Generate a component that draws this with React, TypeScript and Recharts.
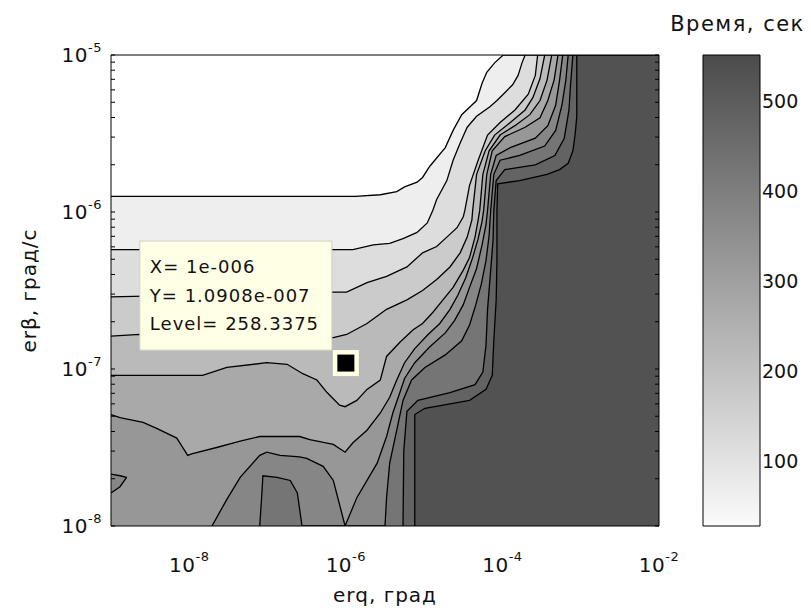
import { Area, ComposedChart, Label, ReferenceDot, XAxis, YAxis } from "recharts";

type Pt = [number, number];

// contour lines in log10 units: [lg erq, lg erβ], light -> dark
const contour1: Pt[] = [
  [-9, -5.9], [-5.88, -5.9], [-5.56, -5.89], [-5.35, -5.87], [-5.25, -5.84], [-5.09, -5.81],
  [-5.02, -5.78], [-4.93, -5.71], [-4.73, -5.59], [-4.63, -5.48], [-4.52, -5.38], [-4.33, -5.29],
  [-4.26, -5.18], [-4.2, -5.11], [-4.1, -5.05], [-3.99, -5], [-2, -5],
];
const contour2: Pt[] = [
  [-9, -6.24], [-6.16, -6.24], [-5.91, -6.24], [-5.65, -6.21], [-5.44, -6.2], [-5.27, -6.17],
  [-5.09, -6.13], [-4.96, -6.07], [-4.89, -5.99], [-4.84, -5.92], [-4.71, -5.8], [-4.63, -5.67],
  [-4.54, -5.56], [-4.45, -5.46], [-4.33, -5.39], [-4.16, -5.33], [-4.07, -5.29], [-3.97, -5.24],
  [-3.87, -5.19], [-3.8, -5.13], [-3.75, -5.05], [-3.71, -5], [-2, -5],
];
const contour3: Pt[] = [
  [-9, -6.54], [-6.16, -6.51], [-5.99, -6.51], [-5.73, -6.45], [-5.48, -6.41], [-5.22, -6.35],
  [-5.02, -6.26], [-4.84, -6.22], [-4.71, -6.16], [-4.58, -6.1], [-4.5, -6.03], [-4.48, -5.99],
  [-4.42, -5.83], [-4.31, -5.67], [-4.19, -5.51], [-4.03, -5.43], [-3.84, -5.35], [-3.67, -5.25],
  [-3.58, -5.13], [-3.55, -5], [-2, -5],
];
const contour4: Pt[] = [
  [-9, -6.79], [-8.63, -6.78], [-6.16, -6.8], [-5.99, -6.78], [-5.73, -6.71], [-5.48, -6.62],
  [-5.22, -6.56], [-5.02, -6.5], [-4.84, -6.43], [-4.67, -6.35], [-4.54, -6.26], [-4.45, -6.16],
  [-4.39, -6.05], [-4.38, -5.99], [-4.33, -5.76], [-4.22, -5.61], [-4.1, -5.51], [-3.9, -5.43],
  [-3.71, -5.35], [-3.61, -5.27], [-3.52, -5.15], [-3.46, -5], [-2, -5],
];
const contour5: Pt[] = [
  [-9, -7.04], [-7.83, -7.04], [-7.52, -6.99], [-7.01, -6.96], [-6.75, -6.97], [-6.55, -7.03],
  [-6.37, -7.07], [-6.24, -7.15], [-6.08, -7.23], [-6.01, -7.24], [-5.86, -7.2], [-5.73, -7.13],
  [-5.56, -7.07], [-5.48, -6.92], [-5.31, -6.83], [-5.14, -6.75], [-5.02, -6.71], [-4.89, -6.64],
  [-4.76, -6.56], [-4.63, -6.48], [-4.5, -6.37], [-4.42, -6.29], [-4.35, -6.16], [-4.31, -6.05],
  [-4.29, -5.99], [-4.25, -5.76], [-4.17, -5.61], [-4.03, -5.51], [-3.84, -5.45], [-3.65, -5.38],
  [-3.52, -5.29], [-3.43, -5.16], [-3.37, -5], [-2, -5],
];
const contour6: Pt[] = [
  [-9, -7.29], [-8.885, -7.31], [-8.59, -7.34], [-8.41, -7.38], [-8.16, -7.44], [-8.02, -7.55],
  [-7.97, -7.54], [-7.65, -7.5], [-7.35, -7.46], [-7.1, -7.43], [-6.59, -7.43], [-6.46, -7.45],
  [-6.16, -7.48], [-6.01, -7.53], [-5.91, -7.47], [-5.73, -7.39], [-5.56, -7.28], [-5.44, -7.18],
  [-5.35, -7.07], [-5.25, -6.96], [-5.12, -6.87], [-4.95, -6.78], [-4.8, -6.71], [-4.67, -6.62],
  [-4.57, -6.53], [-4.47, -6.42], [-4.38, -6.29], [-4.31, -6.17], [-4.26, -6.06], [-4.24, -5.99],
  [-4.2, -5.76], [-4.13, -5.61], [-3.97, -5.52], [-3.71, -5.46], [-3.52, -5.4], [-3.42, -5.29],
  [-3.34, -5.16], [-3.29, -5], [-2, -5],
];
const contour7: Pt[] = [
  [-7.71, -8], [-7.52, -7.83], [-7.35, -7.69], [-7.1, -7.55], [-7.01, -7.53], [-6.84, -7.55],
  [-6.59, -7.56], [-6.5, -7.57], [-6.29, -7.62], [-6.16, -7.71], [-6.01, -8], [-5.86, -7.82],
  [-5.6, -7.6], [-5.48, -7.43], [-5.4, -7.28], [-5.31, -7.15], [-5.25, -7.06], [-5.12, -6.96],
  [-4.93, -6.86], [-4.73, -6.77], [-4.61, -6.69], [-4.5, -6.59], [-4.42, -6.48], [-4.33, -6.36],
  [-4.26, -6.21], [-4.21, -6.08], [-4.19, -5.99], [-4.15, -5.76], [-4.08, -5.64], [-3.9, -5.59],
  [-3.58, -5.53], [-3.42, -5.45], [-3.32, -5.32], [-3.27, -5.16], [-3.23, -5], [-2, -5],
];
const contour8: Pt[] = [
  [-7.1, -8], [-7.07, -7.77], [-7.06, -7.68], [-6.88, -7.69], [-6.71, -7.71], [-6.62, -7.79],
  [-6.56, -8], [-5.5, -8], [-5.48, -7.82], [-5.44, -7.6], [-5.35, -7.39], [-5.27, -7.2],
  [-5.16, -7.07], [-4.99, -6.99], [-4.73, -6.91], [-4.52, -6.82], [-4.42, -6.72], [-4.34, -6.59],
  [-4.27, -6.46], [-4.21, -6.31], [-4.17, -6.15], [-4.15, -5.99], [-4.11, -5.76], [-4.03, -5.67],
  [-3.78, -5.64], [-3.46, -5.58], [-3.32, -5.48], [-3.24, -5.32], [-3.19, -5.16], [-3.16, -5],
  [-2, -5],
];
const contour9: Pt[] = [
  [-5.27, -8], [-5.26, -7.52], [-5.22, -7.27], [-5.08, -7.2], [-4.67, -7.15], [-4.35, -7.1],
  [-4.25, -7.02], [-4.21, -6.85], [-4.19, -6.62], [-4.15, -6.37], [-4.12, -6.18], [-4.11, -5.99],
  [-4.08, -5.8], [-3.97, -5.73], [-3.58, -5.7], [-3.33, -5.64], [-3.21, -5.53], [-3.15, -5.35],
  [-3.13, -5.19], [-3.1, -5], [-2, -5],
];
const contour10: Pt[] = [
  [-5.12, -8], [-5.12, -7.29], [-4.99, -7.25], [-4.42, -7.2], [-4.21, -7.13], [-4.13, -7.04],
  [-4.11, -6.82], [-4.08, -6.56], [-4.07, -6.31], [-4.07, -5.99], [-4.06, -5.82], [-3.78, -5.8],
  [-3.43, -5.76], [-3.27, -5.73], [-3.16, -5.69], [-3.1, -5.61], [-3.07, -5.5], [-3.05, -5.39],
  [-3.05, -5], [-2, -5],
];
// small closed contour at the left edge (level of contour 7): [lg erq, low, high]
const leftLoop: [number, number, number][] = [
  [-9, -7.79, -7.67], [-8.885, -7.75, -7.68], [-8.8, -7.69, -7.69],
];

const contours = [contour1, contour2, contour3, contour4, contour5, contour6, contour7, contour8, contour9, contour10];
const bandColors = ["#eeeeee", "#dddddd", "#cbcbcb", "#bababa", "#a9a9a9", "#979797", "#868686", "#757575", "#636363", "#525252"];

const xTicks = [-8, -6, -4, -2];
const yTicks = [-8, -7, -6, -5];
const yMinorTicks: number[] = [];
for (const d of [-8, -7, -6]) for (let k = 1; k <= 9; k++) yMinorTicks.push(d + Math.log10(k));
yMinorTicks.push(-5);

// data cursor
const tipX = "1e-006";
const tipY = "1.0908e-007";
const tipLevel = "258.3375";
const tipPoint = { x: -6, y: Math.log10(1.0908e-7) };

// colorbar
const cbarMin = 28;
const cbarMax = 552;
const cbarTicks = [100, 200, 300, 400, 500];
const cbarData = [{ x: 0, v: cbarMax }, { x: 1, v: cbarMax }];

const font = '"DejaVu Sans", Verdana, sans-serif';
const ink = "#111";

const rows = (pts: Pt[]) => pts.map(([x, y]) => ({ x, y }));
const empty = () => <g />;

function XTick({ x, y, payload }: any) {
  return (
    <text x={x} y={y + 46} textAnchor="middle" fontSize={20} fill={ink} letterSpacing={0.5}>
      <tspan>10</tspan>
      <tspan dy={-11} fontSize={13}>{payload.value}</tspan>
    </text>
  );
}

function YTick({ x, y, payload }: any) {
  return (
    <text x={x - 9} y={y + 7} textAnchor="end" fontSize={20} fill={ink} letterSpacing={0.5}>
      <tspan>10</tspan>
      <tspan dy={-10} fontSize={13}>{payload.value}</tspan>
    </text>
  );
}

function CursorTip({ cx, cy }: any) {
  const bx = cx - 206;
  const by = cy - 122;
  return (
    <g fontSize={18} fill={ink}>
      <rect x={bx} y={by} width={192} height={109} fill="#ffffe6" stroke="#d4d4c0" />
      <text x={bx + 10} y={cy - 90} letterSpacing={1}>X= {tipX}</text>
      <text x={bx + 10} y={cy - 61} letterSpacing={1}>Y= {tipY}</text>
      <text x={bx + 10} y={cy - 33} letterSpacing={1}>Level= {tipLevel}</text>
      <rect x={cx - 13} y={cy - 13} width={26} height={26} fill="#ffffe6" />
      <rect x={cx - 8.5} y={cy - 8.5} width={17} height={17} fill="#000" />
    </g>
  );
}

function ContourPlot() {
  return (
    <ComposedChart width={811} height={610} margin={{ top: 55, right: 152, bottom: 0, left: 0 }}>
      <XAxis xAxisId="x" type="number" dataKey="x" domain={[-9, -2]} ticks={xTicks} interval={0}
        allowDataOverflow height={84} tickLine={false} axisLine={false} tickSize={0} tickMargin={0} tick={XTick}>
        <Label content={({ viewBox }: any) => (
          <text x={viewBox.x + viewBox.width / 2} y={viewBox.y + 76} textAnchor="middle" fontSize={20} fill={ink} letterSpacing={1}>
            erq, град
          </text>
        )} />
      </XAxis>
      <YAxis yAxisId="y" type="number" domain={[-8, -5]} ticks={yTicks} interval={0} allowDataOverflow
        width={111} tickLine={false} axisLine={false} tickSize={0} tickMargin={0} tick={YTick}>
        <Label content={({ viewBox }: any) => {
          const cx = 29;
          const cy = viewBox.y + viewBox.height / 2;
          return (
            <text x={cx} y={cy} transform={`rotate(-90 ${cx} ${cy})`} textAnchor="middle" dominantBaseline="central"
              fontSize={20} fill={ink} letterSpacing={1}>
              erβ, град/с
            </text>
          );
        }} />
      </YAxis>

      {contours.map((c, i) => (
        <Area key={i} xAxisId="x" yAxisId="y" data={rows(c)} dataKey="y" type="linear" baseValue="dataMin"
          fill={bandColors[i]} fillOpacity={1} stroke="#000" strokeWidth={1.3} dot={false} activeDot={false}
          isAnimationActive={false} />
      ))}
      <Area xAxisId="x" yAxisId="y" data={leftLoop.map(([x, lo, hi]) => ({ x, r: [lo, hi] }))} dataKey="r"
        type="linear" fill={bandColors[6]} fillOpacity={1} stroke="#000" strokeWidth={1.3} dot={false}
        activeDot={false} isAnimationActive={false} />

      <XAxis xAxisId="xb" type="number" orientation="bottom" mirror domain={[-9, -2]} ticks={xTicks} interval={0}
        allowDataOverflow height={10} tickSize={5} tick={empty} tickLine={{ stroke: "#000" }} axisLine={{ stroke: "#000" }} />
      <XAxis xAxisId="xt" type="number" orientation="top" mirror domain={[-9, -2]} ticks={xTicks} interval={0}
        allowDataOverflow height={10} tickSize={5} tick={empty} tickLine={{ stroke: "#000" }} axisLine={{ stroke: "#000" }} />
      <YAxis yAxisId="yl" type="number" orientation="left" mirror domain={[-8, -5]} ticks={yMinorTicks} interval={0}
        allowDataOverflow width={10} tickSize={4} tick={empty} tickLine={{ stroke: "#000" }} axisLine={{ stroke: "#000" }} />
      <YAxis yAxisId="yr" type="number" orientation="right" mirror domain={[-8, -5]} ticks={yMinorTicks} interval={0}
        allowDataOverflow width={10} tickSize={4} tick={empty} tickLine={{ stroke: "#000" }} axisLine={{ stroke: "#000" }} />

      <ReferenceDot xAxisId="x" yAxisId="y" x={tipPoint.x} y={tipPoint.y} r={8} shape={CursorTip} />
    </ComposedChart>
  );
}

function Colorbar() {
  return (
    <ComposedChart width={161} height={610} data={cbarData} margin={{ top: 55, right: 0, bottom: 84, left: 53 }}>
      <defs>
        <linearGradient id="cbarFill" x1="0" y1="0" x2="0" y2="1">
          <stop offset="0" stopColor="#4b4b4b" />
          <stop offset="1" stopColor="#fbfbfb" />
        </linearGradient>
      </defs>
      <XAxis xAxisId="c" type="number" dataKey="x" domain={[0, 1]} hide />
      <YAxis yAxisId="c" orientation="right" type="number" domain={[cbarMin, cbarMax]} ticks={cbarTicks} interval={0}
        allowDataOverflow width={51} tickLine={false} axisLine={false} tickSize={0} tickMargin={2}
        tick={{ fontSize: 19, fill: ink }} />
      <Area xAxisId="c" yAxisId="c" dataKey="v" type="linear" baseValue="dataMin" fill="url(#cbarFill)" fillOpacity={1}
        stroke="none" dot={false} activeDot={false} isAnimationActive={false} />
      <XAxis xAxisId="ct" type="number" orientation="top" mirror domain={[0, 1]} ticks={[]} height={10}
        tick={empty} axisLine={{ stroke: "#000" }}>
        <Label content={({ viewBox }: any) => (
          <text x={viewBox.x + viewBox.width / 2 + 6} y={viewBox.y - 24} textAnchor="middle" fontSize={21} fill={ink} letterSpacing={1.5}>
            Время, сек
          </text>
        )} />
      </XAxis>
      <XAxis xAxisId="cb" type="number" orientation="bottom" mirror domain={[0, 1]} ticks={[]} height={10}
        tick={empty} axisLine={{ stroke: "#000" }} />
      <YAxis yAxisId="cl" type="number" orientation="left" mirror domain={[cbarMin, cbarMax]} ticks={cbarTicks} interval={0}
        width={10} tickSize={4} tick={empty} tickLine={{ stroke: "#000" }} axisLine={{ stroke: "#000" }} />
      <YAxis yAxisId="cr" type="number" orientation="right" mirror domain={[cbarMin, cbarMax]} ticks={cbarTicks} interval={0}
        width={10} tickSize={4} tick={empty} tickLine={{ stroke: "#000" }} axisLine={{ stroke: "#000" }} />
    </ComposedChart>
  );
}

export default function App() {
  return (
    <div style={{ position: "absolute", left: 0, top: 0, width: 811, height: 610, background: "#fff", fontFamily: font }}>
      <div style={{ position: "absolute", left: 0, top: 0 }}>
        <ContourPlot />
      </div>
      <div style={{ position: "absolute", left: 650, top: 0 }}>
        <Colorbar />
      </div>
    </div>
  );
}
